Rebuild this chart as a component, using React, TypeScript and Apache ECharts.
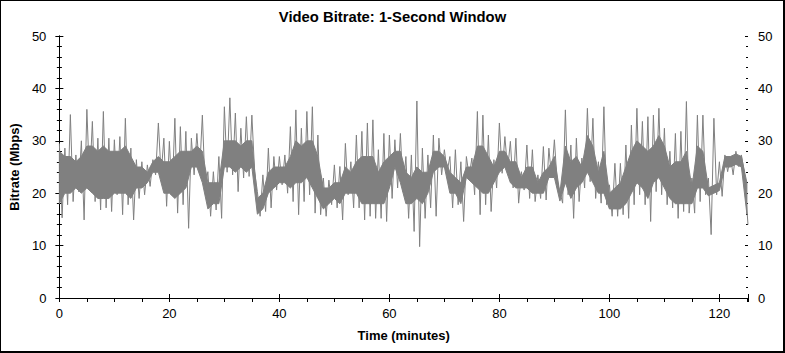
import React, { useEffect, useRef } from "react";
import * as echarts from "echarts";

// Per-minute readings from the picture (Mbps).
// Spike peaks and troughs reached within each minute:
const highs = [
  29.5, 28.6, 35, 27.3, 30, 36, 33.7, 30.5, 35.6, 30.5,
  30.2, 30.8, 34.3, 28.6, 26.4, 26, 25.4, 26.4, 33.4, 30.5,
  29.9, 34.3, 32.7, 31.8, 30.5, 31.4, 34.9, 24.1, 24.1, 27,
  36.5, 38.2, 35.3, 32.4, 34.6, 34.9, 20.3, 23.5, 28.6, 27,
  27, 27.3, 32.7, 35.9, 32.4, 35.6, 36.5, 31.1, 22.9, 22.5,
  25.4, 25.1, 29.5, 26, 31.1, 31.8, 33.4, 34, 28.3, 31.4,
  31.1, 30.2, 31.4, 27, 27.3, 37.6, 28.6, 27.3, 31.1, 30.5,
  28.3, 27, 28.3, 26, 27, 26.7, 35.6, 34.9, 31.1, 26.4,
  33.4, 30.8, 29.9, 30.5, 24.1, 29.2, 28.3, 23.5, 28.9, 28.6,
  30.2, 20.3, 35.9, 29.2, 30.5, 26.7, 36.2, 34.3, 26, 36.5,
  21.6, 25.7, 25.7, 29.2, 33, 36.2, 33.7, 34.6, 34.9, 36.2,
  32.4, 28, 31.4, 31.8, 37.5, 22.9, 34.9, 34.9, 22.9, 34.3,
  26, 27.3, 27, 28, 27.3,
];
const lows = [
  15.3, 17.8, 18.4, 20.3, 14.9, 22, 18.4, 16.8, 17.2, 16.5,
  19.7, 15.9, 17.8, 14.9, 19, 19.7, 21.3, 23.5, 23.5, 17.5,
  19.7, 16.2, 17.8, 13.3, 23.5, 24.1, 21, 15.6, 16.8, 15.2,
  24, 23.5, 20.3, 22.9, 23.2, 24.1, 15.6, 16.5, 17.2, 20.6,
  21.6, 20, 18.4, 15.9, 18.4, 19.7, 16.2, 15.9, 15.6, 17.8,
  17.2, 14.9, 19.7, 17.2, 17.2, 14.9, 15.6, 15.2, 15.2, 14.6,
  19, 21, 20.3, 15.2, 12.7, 9.8, 15.2, 17.2, 15.6, 23.5,
  24.1, 17.2, 17.8, 14.6, 23.2, 19.7, 15.9, 17.8, 16.5, 21,
  23.8, 24.5, 21, 18.1, 20.6, 19, 18.4, 19, 18.7, 22.9,
  22.2, 18.1, 19.7, 15.2, 18.4, 21, 22.2, 19, 18.1, 17.8,
  15.6, 15.6, 15.9, 15.2, 17.8, 19.7, 17.8, 14.6, 20.3, 19.7,
  17.8, 17.2, 15.2, 16.5, 16.2, 16.2, 18.4, 19.7, 12.1, 19.7,
  19.4, 24.1, 23.5, 25.1, 24.1,
];
// Upper and lower edge of the dense body of the trace at each whole minute (0..125):
const coreHighs = [
  28, 27, 27, 26, 27, 29, 29, 28, 29, 28,
  28, 28, 29, 27, 25, 25, 24, 26, 27, 26,
  26, 27, 28, 28, 28, 29, 28, 22, 22, 22,
  30, 30, 30, 29, 30, 30, 19, 20, 24, 25,
  25, 25, 27, 30, 29, 30, 30, 27, 21, 21,
  22, 22, 25, 24, 26, 27, 27, 27, 24, 26,
  27, 28, 28, 24, 23, 25, 24, 24, 28, 28,
  27, 24, 23, 22, 25, 25, 29, 29, 27, 25,
  28, 28, 26, 26, 23, 25, 25, 22, 24, 25,
  27, 20, 29, 26, 27, 25, 31, 29, 24, 28,
  20, 21, 22, 25, 28, 30, 29, 28, 29, 31,
  29, 25, 26, 26, 28, 21, 29, 28, 21, 21.5,
  22, 27, 27, 27.5, 27, 22,
];
const coreLows = [
  18, 20, 20, 21, 20, 21, 20, 19, 19, 19,
  20, 20, 20, 19, 21, 21, 22, 24, 24, 20,
  20, 19, 20, 21, 25, 25, 22, 17, 18, 18,
  25, 25, 24, 25, 24, 25, 16, 17, 20, 21,
  22, 22, 21, 22, 22, 23, 21, 19, 17, 18,
  19, 18, 20, 20, 20, 18, 18, 18, 18, 18,
  21, 25, 22, 18, 18, 19, 18, 20, 24, 25,
  25, 20, 20, 18, 23, 22, 21, 20, 20, 22,
  24, 25, 22, 21, 21, 21, 20, 20, 20, 23,
  23, 18.5, 22, 19, 21, 22, 24, 22, 20, 20,
  17, 17, 17, 18, 20, 22, 21, 19, 22, 23,
  21, 19, 18, 18, 18, 18, 21, 21, 19.5, 20,
  20.5, 25, 25, 25.5, 25, 16,
];
const endValue = 14; // last sample at the end of the video
const videoLengthMin = 125.2;
const xTicks = [0, 20, 40, 60, 80, 100, 120];
const yTicks = [0, 10, 20, 30, 40, 50];

const FONT = "'Liberation Sans', Arial, sans-serif";
const TRACE = "#808080";

export default function App() {
  const ref = useRef<HTMLDivElement>(null);

  useEffect(() => {
    document.body.style.margin = "0";
    if (!ref.current) return;
    const chart = echarts.init(ref.current, undefined, { renderer: "svg" });

    const points: number[][] = [];
    highs.forEach((h, i) => {
      points.push([i, h]);
      points.push([i + 0.5, lows[i]]);
    });
    points.push([videoLengthMin, endValue]);

    const coreX = coreHighs.map((_, i) => Math.min(i, videoLengthMin));

    const xMax = videoLengthMin;
    const xInterval = xTicks[1] - xTicks[0];
    const yInterval = yTicks[1] - yTicks[0];
    const black = "#000";

    const baseX = {
      type: "value" as const,
      min: xTicks[0],
      max: xMax,
      interval: xInterval,
      splitLine: { show: false },
    };
    const baseY = {
      type: "value" as const,
      min: yTicks[0],
      max: yTicks[yTicks.length - 1],
      interval: yInterval,
      splitLine: { show: false },
    };
    const xLabelFmt = (v: number) => (xTicks.includes(v) ? String(v) : "");

    chart.setOption({
      animation: false,
      backgroundColor: "#fff",
      title: {
        text: "Video Bitrate: 1-Second Window",
        left: "center",
        top: 9,
        padding: 0,
        textStyle: { fontFamily: FONT, fontSize: 14.8, fontWeight: "bold", color: black },
      },
      grid: { left: 58, right: 37, top: 36, bottom: 55, containLabel: false },
      xAxis: [
        {
          ...baseX,
          position: "bottom",
          name: "Time (minutes)",
          nameLocation: "middle",
          nameGap: 31,
          nameTextStyle: { fontFamily: FONT, fontSize: 13, fontWeight: "bold", color: black },
          axisLine: { show: true, lineStyle: { color: black, width: 1 } },
          axisTick: { show: true, inside: false, length: 4, lineStyle: { color: black } },
          minorTick: { show: true, splitNumber: 4, length: 3, lineStyle: { color: black } },
          axisLabel: {
            fontFamily: FONT, fontSize: 13, color: black, margin: 9,
            showMaxLabel: false, formatter: xLabelFmt,
          },
        },
        {
          ...baseX,
          position: "bottom",
          axisLine: { show: false },
          axisTick: { show: true, inside: true, length: 4, lineStyle: { color: black } },
          axisLabel: { show: false },
        },
        {
          ...baseX,
          position: "top",
          axisLine: { show: true, lineStyle: { color: black, width: 1 } },
          axisTick: { show: true, inside: true, length: 4, lineStyle: { color: black } },
          minorTick: { show: true, splitNumber: 4, length: 4, lineStyle: { color: black } },
          axisLabel: { show: false },
        },
      ],
      yAxis: [
        {
          ...baseY,
          position: "left",
          name: "Bitrate (Mbps)",
          nameLocation: "middle",
          nameGap: 36,
          nameRotate: 90,
          nameTextStyle: { fontFamily: FONT, fontSize: 13, fontWeight: "bold", color: black },
          axisLine: { show: true, lineStyle: { color: black, width: 1 } },
          axisTick: { show: true, inside: false, length: 4, lineStyle: { color: black } },
          minorTick: { show: true, splitNumber: 5, length: 2.5, lineStyle: { color: black } },
          axisLabel: { fontFamily: FONT, fontSize: 13, color: black, margin: 13 },
        },
        {
          ...baseY,
          position: "left",
          axisLine: { show: false },
          axisTick: { show: true, inside: true, length: 4, lineStyle: { color: black } },
          minorTick: { show: true, splitNumber: 5, length: 2.5, lineStyle: { color: black } },
          axisLabel: { show: false },
        },
        {
          ...baseY,
          position: "right",
          axisLine: { show: true, lineStyle: { color: black, width: 1 } },
          axisTick: { show: true, inside: false, length: 3, lineStyle: { color: black } },
          minorTick: { show: true, splitNumber: 5, length: 2, lineStyle: { color: black } },
          axisLabel: { fontFamily: FONT, fontSize: 13, color: black, margin: 10 },
        },
        {
          ...baseY,
          position: "right",
          axisLine: { show: false },
          axisTick: { show: true, inside: true, length: 3, lineStyle: { color: black } },
          minorTick: { show: true, splitNumber: 5, length: 2, lineStyle: { color: black } },
          axisLabel: { show: false },
        },
      ],
      series: [
        {
          // dense body of the trace: one polygon, upper edge forward, lower edge back
          type: "custom",
          xAxisIndex: 0,
          yAxisIndex: 0,
          data: [[coreX[0], coreHighs[0]]],
          renderItem: (_params: any, api: any) => {
            const upper = coreX.map((x, i) => api.coord([x, coreHighs[i]]));
            const lower = coreX.map((x, i) => api.coord([x, coreLows[i]])).reverse();
            return {
              type: "polygon",
              shape: { points: upper.concat(lower) },
              style: { fill: TRACE, stroke: TRACE, lineWidth: 1 },
            };
          },
          silent: true,
          z: 1,
        },
        {
          type: "line",
          xAxisIndex: 0,
          yAxisIndex: 0,
          data: points,
          showSymbol: false,
          symbol: "none",
          lineStyle: { color: TRACE, width: 1 },
          z: 2,
        },
      ],
    });

    return () => chart.dispose();
  }, []);

  return (
    <div style={{ position: "relative", width: 785, height: 353 }}>
      <div ref={ref} style={{ width: 785, height: 353 }} />
      <div
        style={{
          position: "absolute",
          left: 0,
          top: 0,
          width: 785,
          height: 353,
          boxSizing: "border-box",
          borderLeft: "1px solid #000",
          borderTop: "1px solid #000",
          borderRight: "2px solid #000",
          borderBottom: "2px solid #000",
          pointerEvents: "none",
        }}
      />
    </div>
  );
}
